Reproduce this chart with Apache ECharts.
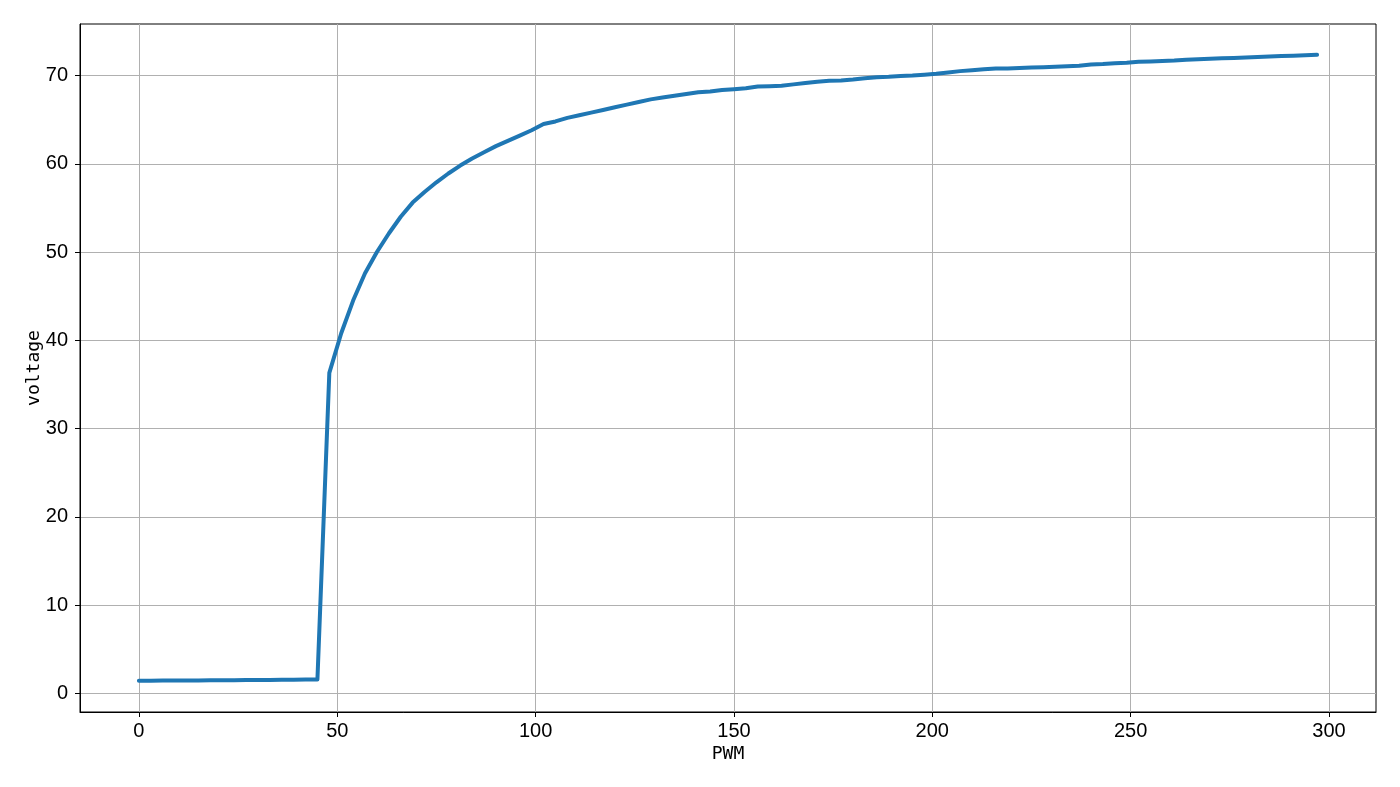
<!DOCTYPE html>
<html>
<head>
<meta charset="utf-8">
<script src="https://cdn.jsdelivr.net/npm/echarts@6/dist/echarts.min.js"></script>
<style>html,body{margin:0;padding:0;background:#fff;}#chart{width:1400px;height:787px;}</style>
</head>
<body>
<div id="chart"></div>
<script>
const pwm = [0,3,6,9,12,15,18,21,24,27,30,33,36,39,42,45,48,51,54,57,60,63,66,69,72,75,78,81,84,87,90,93,96,99,102,105,108,111,114,117,120,123,126,129,132,135,138,141,144,147,150,153,156,159,162,165,168,171,174,177,180,183,186,189,192,195,198,201,204,207,210,213,216,219,222,225,228,231,234,237,240,243,246,249,252,255,258,261,264,267,270,273,276,279,282,285,288,291,294,297];
const voltage = [1.42,1.43,1.44,1.45,1.46,1.46,1.47,1.48,1.49,1.50,1.51,1.52,1.53,1.54,1.55,1.56,
  36.3,40.8,44.5,47.6,50.0,52.1,54.0,55.6,56.8,57.9,58.9,59.8,60.6,61.3,62.0,62.6,63.2,63.8,64.5,
  64.8,65.2,65.5,65.8,66.1,66.4,66.7,67.0,67.3,67.5,67.7,67.9,68.1,68.2,68.35,68.45,68.55,68.75,68.8,68.85,
  69.0,69.15,69.3,69.4,69.45,69.55,69.7,69.8,69.85,69.95,70.0,70.1,70.2,70.35,70.5,70.6,70.7,70.8,70.8,
  70.85,70.9,70.95,71.0,71.05,71.1,71.25,71.3,71.4,71.45,71.55,71.6,71.65,71.7,71.8,71.85,71.9,71.95,
  72.0,72.05,72.1,72.15,72.2,72.25,72.3,72.35];
const xTicks = [0,50,100,150,200,250,300];
const yTicks = [0,10,20,30,40,50,60,70];
const xName = 'PWM';
const yName = 'voltage';

const chart = echarts.init(document.getElementById('chart'), null, {renderer:'canvas'});
const tickFont = {fontFamily:'"Liberation Sans", Arial, sans-serif', fontSize:20, color:'#000'};
const nameFont = {fontFamily:'"DejaVu Sans Mono", monospace', fontSize:18, color:'#000'};
chart.setOption({
  animation:false,
  backgroundColor:'#fff',
  grid:{left:80, right:24, top:24, bottom:75, show:true, borderColor:'#000', borderWidth:1, backgroundColor:'transparent'},
  xAxis:{
    type:'value', min:-14.85, max:311.85,
    name:xName, nameLocation:'middle', nameGap:33, nameMoveOverlap:false, nameTextStyle:nameFont,
    axisLine:{show:true, onZero:false, lineStyle:{color:'#000', width:1}},
    axisTick:{show:true, inside:false, length:5, lineStyle:{color:'#000', width:1}, customValues:xTicks},
    axisLabel:{show:true, margin:9, customValues:xTicks, ...tickFont},
    splitLine:{show:true, lineStyle:{color:'#b0b0b0', width:1}}
  },
  yAxis:{
    type:'value', min:-2.12, max:75.84,
    name:yName, nameLocation:'middle', nameGap:37, nameMoveOverlap:false, nameTextStyle:nameFont,
    axisLine:{show:true, onZero:false, lineStyle:{color:'#000', width:1}},
    axisTick:{show:true, inside:false, length:5, lineStyle:{color:'#000', width:1}, customValues:yTicks},
    axisLabel:{show:true, margin:12, customValues:yTicks, ...tickFont},
    splitLine:{show:true, lineStyle:{color:'#b0b0b0', width:1}}
  },
  series:[{
    type:'line', data:pwm.map((x,i)=>[x, voltage[i]]),
    showSymbol:false, symbol:'none', smooth:false,
    lineStyle:{color:'#1f77b4', width:4, cap:'round', join:'round'},
    z:3
  }]
});
</script>
</body>
</html>
